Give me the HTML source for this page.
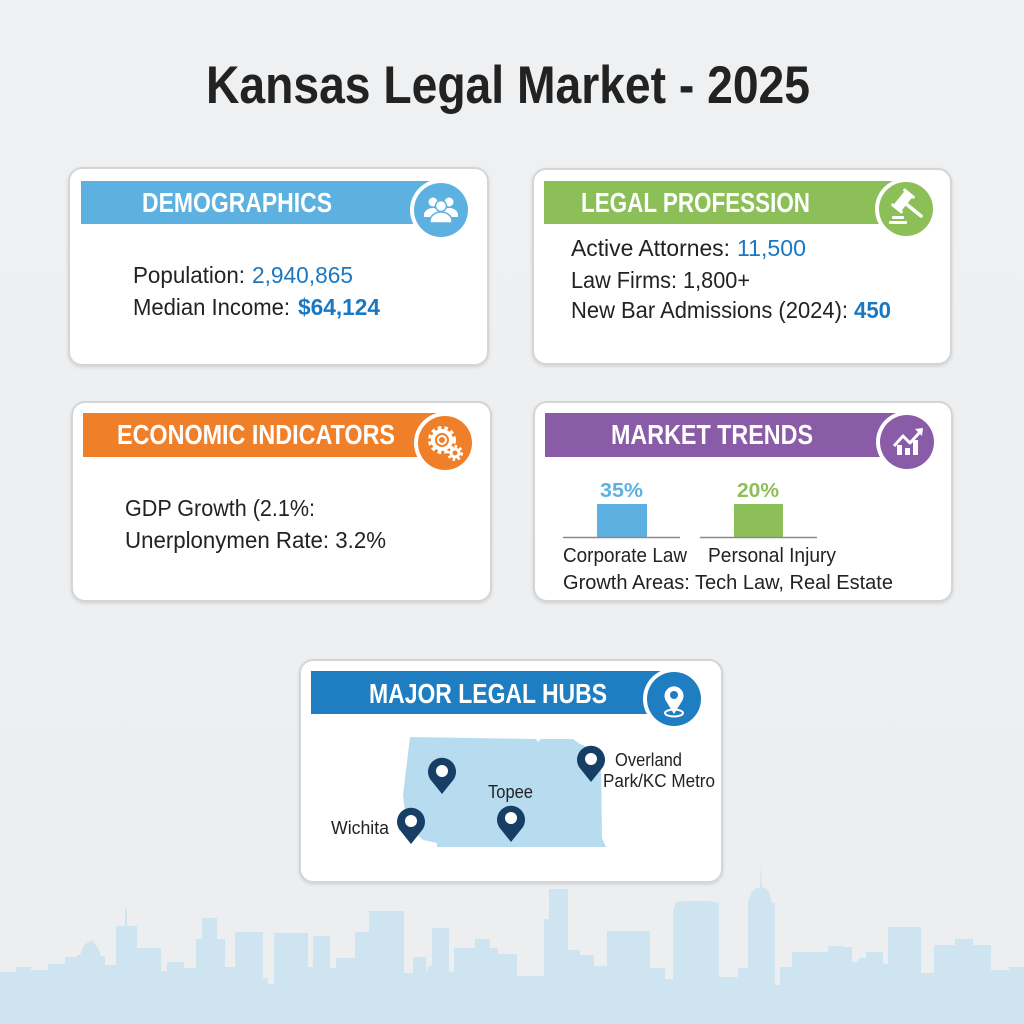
<!DOCTYPE html>
<html><head><meta charset="utf-8"><style>
html,body{margin:0;padding:0;background:#edeff1;}
svg{display:block;}
text{font-family:"Liberation Sans",sans-serif;}
</style></head><body>
<svg width="1024" height="1024" viewBox="0 0 1024 1024" xmlns="http://www.w3.org/2000/svg">
<defs>
<linearGradient id="bg" x1="0" y1="0" x2="0" y2="1">
<stop offset="0" stop-color="#eef0f2"/><stop offset="1" stop-color="#eceef0"/>
</linearGradient>
<filter id="sh" x="-5%" y="-5%" width="110%" height="115%">
<feDropShadow dx="0" dy="1.5" stdDeviation="1.5" flood-color="#000" flood-opacity="0.12"/>
</filter>
</defs>
<rect width="1024" height="1024" fill="url(#bg)"/>

<!-- skyline -->
<polygon fill="#cee4f0" points="0,1024 0,972 16,972 16,967 31,967 31,970 48,970 48,964 65,964 65,957 77,957 77,955 80,955 84,945 92,940 99,950 101,956 105,956 105,965 116,965 116,926 125,926 125,909 127,909 127,926 137,926 137,948 161,948 161,971 167,971 167,962 184,962 184,968 196,968 196,939 202,939 202,918 217,918 217,939 225,939 225,967 235,967 235,932 263,932 263,978 268,978 268,984 274,984 274,933 308,933 308,967 313,967 313,936 330,936 330,968 336,968 336,958 355,958 355,932 369,932 369,911 404,911 404,973 413,973 413,957 426,957 426,976 428,966 432,966 432,928 449,928 449,972 454,972 454,948 475,948 475,939 490,939 490,948 498,948 498,954 517,954 517,976 544,976 544,919 549,919 549,889 568,889 568,950 580,950 580,955 594,955 594,966 607,966 607,931 650,931 650,968 665,968 665,979 673,979 673,911 676,902 685,901 709,901 719,903 719,977 738,977 738,968 748,968 748,903 751,893 755,889 758,888 760,887 761,863 762,887 765,888 769,892 772,903 775,903 775,985 780,985 780,967 792,967 792,952 828,952 828,946 843,946 843,947 852,947 852,962 857,962 860,958 866,958 866,952 883,952 883,964 888,964 888,927 921,927 921,973 934,973 934,945 955,945 955,939 973,939 973,945 991,945 991,970 1009,970 1009,967 1024,967 1024,1024"/>

<!-- title -->
<text x="206" y="103" font-size="53" font-weight="bold" fill="#222" textLength="604" lengthAdjust="spacingAndGlyphs">Kansas Legal Market - 2025</text>

<!-- Card 1 Demographics -->
<rect x="69" y="168" width="419" height="197" rx="13" fill="#fff" stroke="#d3d5d7" stroke-width="2" filter="url(#sh)"/>
<rect x="81" y="181" width="360" height="43" fill="#5db1e1"/>
<circle cx="441" cy="210" r="31" fill="#fff"/>
<circle cx="441" cy="210" r="27" fill="#5db1e1"/>
<g fill="#fff">
<circle cx="433" cy="202" r="4.5"/><circle cx="449" cy="202" r="4.5"/>
<path d="M424,215 a9,7 0 0 1 18,0 v2 h-18z"/><path d="M440,215 a9,7 0 0 1 18,0 v2 h-18z"/>
<circle cx="441" cy="206" r="5.5" stroke="#5db1e1" stroke-width="1.5"/>
<path d="M430,221 a11,9 0 0 1 22,0 v2 h-22z" stroke="#5db1e1" stroke-width="1.5"/>
</g>
<text x="142" y="212" font-size="28" font-weight="bold" fill="#fff" textLength="190" lengthAdjust="spacingAndGlyphs">DEMOGRAPHICS</text>
<text x="133" y="283" font-size="23" fill="#222" textLength="112" lengthAdjust="spacingAndGlyphs">Population:</text>
<text x="252" y="283" font-size="23" fill="#1a78c2" textLength="101" lengthAdjust="spacingAndGlyphs">2,940,865</text>
<text x="133" y="315" font-size="23" fill="#222" textLength="157" lengthAdjust="spacingAndGlyphs">Median Income:</text>
<text x="298" y="315" font-size="23" font-weight="bold" fill="#1a78c2" textLength="82" lengthAdjust="spacingAndGlyphs">$64,124</text>

<!-- Card 2 Legal Profession -->
<rect x="533" y="169" width="418" height="195" rx="13" fill="#fff" stroke="#d3d5d7" stroke-width="2" filter="url(#sh)"/>
<rect x="544" y="181" width="362" height="43" fill="#8cbf58"/>
<circle cx="906" cy="209" r="31" fill="#fff"/>
<circle cx="906" cy="209" r="27" fill="#8cbf58"/>
<g fill="#fff">
<line x1="905" y1="203" x2="921" y2="216" stroke="#fff" stroke-width="3.5" stroke-linecap="round"/>
<g transform="rotate(39 903 201)">
<rect x="898" y="192" width="10" height="18" rx="1"/>
<rect x="896" y="190" width="14" height="3" rx="1"/>
<rect x="896" y="209" width="14" height="3" rx="1"/>
</g>
<rect x="892" y="216" width="12" height="3" rx="1"/><rect x="889" y="221" width="18" height="3" rx="1"/>
</g>
<text x="581" y="212" font-size="28" font-weight="bold" fill="#fff" textLength="229" lengthAdjust="spacingAndGlyphs">LEGAL PROFESSION</text>
<text x="571" y="256" font-size="23" fill="#222" textLength="159" lengthAdjust="spacingAndGlyphs">Active Attornes:</text>
<text x="737" y="256" font-size="23" fill="#1a78c2" textLength="69" lengthAdjust="spacingAndGlyphs">11,500</text>
<text x="571" y="288" font-size="23" fill="#222" textLength="179" lengthAdjust="spacingAndGlyphs">Law Firms: 1,800+</text>
<text x="571" y="318" font-size="23" fill="#222" textLength="277" lengthAdjust="spacingAndGlyphs">New Bar Admissions (2024):</text>
<text x="854" y="318" font-size="23" font-weight="bold" fill="#1a78c2" textLength="37" lengthAdjust="spacingAndGlyphs">450</text>

<!-- Card 3 Economic -->
<rect x="72" y="402" width="419" height="199" rx="13" fill="#fff" stroke="#d3d5d7" stroke-width="2" filter="url(#sh)"/>
<rect x="83" y="413" width="362" height="44" fill="#f07f2a"/>
<circle cx="445" cy="443" r="31" fill="#fff"/>
<circle cx="445" cy="443" r="27" fill="#f07f2a"/>
<g fill="none" stroke="#fff">
<circle cx="442" cy="440" r="9" stroke-width="4"/>
<circle cx="442" cy="440" r="12" stroke-width="4" stroke-dasharray="3.5 3"/>
<circle cx="442" cy="440" r="4" stroke-width="2"/>
<circle cx="455" cy="453" r="4" stroke-width="3"/>
<circle cx="455" cy="453" r="6.5" stroke-width="3" stroke-dasharray="2.5 2.5"/>
</g>
<text x="117" y="444" font-size="28" font-weight="bold" fill="#fff" textLength="278" lengthAdjust="spacingAndGlyphs">ECONOMIC INDICATORS</text>
<text x="125" y="516" font-size="23" fill="#222" textLength="190" lengthAdjust="spacingAndGlyphs">GDP Growth (2.1%:</text>
<text x="125" y="548" font-size="23" fill="#222" textLength="261" lengthAdjust="spacingAndGlyphs">Unerplonymen Rate: 3.2%</text>

<!-- Card 4 Market Trends -->
<rect x="534" y="402" width="418" height="199" rx="13" fill="#fff" stroke="#d3d5d7" stroke-width="2" filter="url(#sh)"/>
<rect x="545" y="413" width="362" height="44" fill="#8a5ba6"/>
<circle cx="907" cy="442" r="31" fill="#fff"/>
<circle cx="907" cy="442" r="27" fill="#8a5ba6"/>
<g fill="#fff">
<rect x="897" y="445" width="5" height="10"/><rect x="905" y="448" width="5" height="7"/><rect x="913" y="440" width="5" height="15"/>
<path d="M894,446 L903,436 L910,443 L920,432" fill="none" stroke="#fff" stroke-width="3" stroke-linejoin="round"/>
<path d="M915,429 L923,428 L922,436 Z"/>
</g>
<text x="611" y="444" font-size="28" font-weight="bold" fill="#fff" textLength="202" lengthAdjust="spacingAndGlyphs">MARKET TRENDS</text>
<text x="600" y="497" font-size="20" font-weight="bold" fill="#5db1e1" textLength="43" lengthAdjust="spacingAndGlyphs">35%</text>
<text x="737" y="497" font-size="20" font-weight="bold" fill="#8cbf58" textLength="42" lengthAdjust="spacingAndGlyphs">20%</text>
<rect x="597" y="504" width="50" height="33" fill="#5db1e1"/>
<rect x="734" y="504" width="49" height="33" fill="#8cbf58"/>
<line x1="563" y1="537.5" x2="680" y2="537.5" stroke="#8a8a8a" stroke-width="1.5"/>
<line x1="700" y1="537.5" x2="817" y2="537.5" stroke="#8a8a8a" stroke-width="1.5"/>
<text x="563" y="562" font-size="20" fill="#222" textLength="124" lengthAdjust="spacingAndGlyphs">Corporate Law</text>
<text x="708" y="562" font-size="20" fill="#222" textLength="128" lengthAdjust="spacingAndGlyphs">Personal Injury</text>
<text x="563" y="589" font-size="20" fill="#222" textLength="330" lengthAdjust="spacingAndGlyphs">Growth Areas: Tech Law, Real Estate</text>

<!-- Card 5 Major Legal Hubs -->
<rect x="300" y="660" width="422" height="222" rx="13" fill="#fff" stroke="#d3d5d7" stroke-width="2" filter="url(#sh)"/>
<rect x="311" y="671" width="363" height="43" fill="#1f7ec2"/>
<circle cx="674" cy="699" r="31" fill="#fff"/>
<circle cx="674" cy="699" r="27" fill="#1f7ec2"/>
<g>
<ellipse cx="674" cy="713" rx="9" ry="3.5" fill="none" stroke="#fff" stroke-width="2"/>
<path d="M674,714 L666,701 A9.5,9.5 0 1 1 682,701 Z" fill="#fff"/>
<circle cx="674" cy="695" r="4" fill="#1f7ec2"/>
</g>
<text x="369" y="703" font-size="28" font-weight="bold" fill="#fff" textLength="238" lengthAdjust="spacingAndGlyphs">MAJOR LEGAL HUBS</text>
<polygon fill="#b7dcf0" points="410,737 536,739 538,742 541,739 573,739 580,744 592,749 600,753 601,760 602,838 606,847 437,847 437,843 423,840 412,830 405,812 403,795 406,770"/>
<g fill="#173f66">
<path d="M442,794 L430,779 A14,14 0 1 1 454,779 Z"/>
<path d="M411,844 L399,829 A14,14 0 1 1 423,829 Z"/>
<path d="M511,842 L499,827 A14,14 0 1 1 523,827 Z"/>
<path d="M591,782 L579,767 A14,14 0 1 1 603,767 Z"/>
</g>
<g fill="#fff">
<circle cx="442" cy="771" r="6"/><circle cx="411" cy="821" r="6"/><circle cx="511" cy="818" r="6"/><circle cx="591" cy="759" r="6"/>
</g>
<text x="331" y="834" font-size="18" fill="#222" textLength="58" lengthAdjust="spacingAndGlyphs">Wichita</text>
<text x="488" y="798" font-size="18" fill="#222" textLength="45" lengthAdjust="spacingAndGlyphs">Topee</text>
<text x="615" y="766" font-size="18" fill="#222" textLength="67" lengthAdjust="spacingAndGlyphs">Overland</text>
<text x="603" y="787" font-size="18" fill="#222" textLength="112" lengthAdjust="spacingAndGlyphs">Park/KC Metro</text>
</svg>
</body></html>
